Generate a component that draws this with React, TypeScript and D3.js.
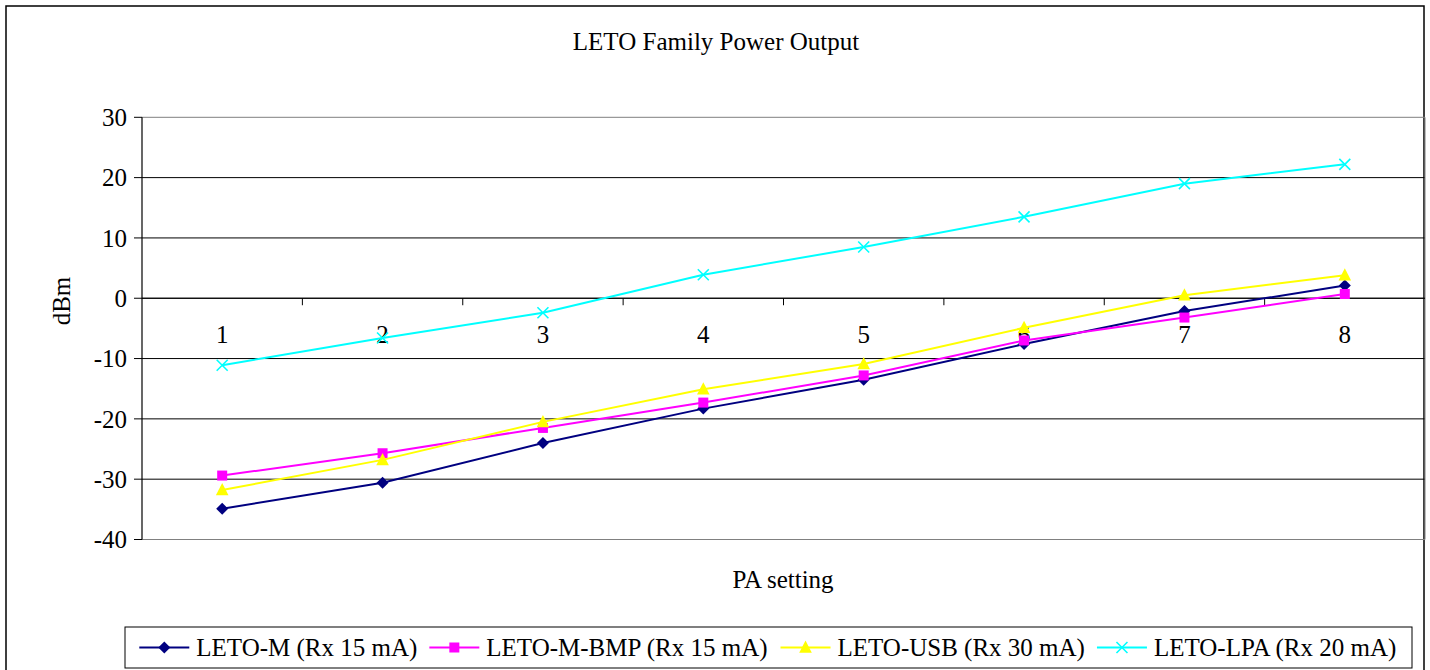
import React from "react";
import * as d3 from "d3";

const categories = ["1", "2", "3", "4", "5", "6", "7", "8"];
const yTicks = [30, 20, 10, 0, -10, -20, -30, -40];
const seriesNames = [
  "LETO-M (Rx 15 mA)",
  "LETO-M-BMP (Rx 15 mA)",
  "LETO-USB (Rx 30 mA)",
  "LETO-LPA (Rx 20 mA)",
];
const letoM = [-34.9, -30.6, -24.0, -18.3, -13.5, -7.6, -2.1, 2.1];
const letoBmp = [-29.4, -25.7, -21.5, -17.3, -12.8, -7.0, -3.2, 0.7];
const letoUsb = [-31.8, -26.8, -20.5, -15.1, -10.9, -4.9, 0.5, 3.8];
const letoLpa = [-11.1, -6.6, -2.4, 3.9, 8.5, 13.5, 19.0, 22.2];

const seriesValues = [letoM, letoBmp, letoUsb, letoLpa];
const colors = ["#000080", "#FF00FF", "#FFFF00", "#00FFFF"];
const markers = ["diamond", "square", "triangle", "x"];

const W = 1430;
const H = 670;
const FONT = "'Liberation Serif', 'Times New Roman', serif";
const FS = 25;

const plot = { left: 142, right: 1425, top: 117.3, bottom: 539.5 };

function Marker({ type, x, y, color }: { type: string; x: number; y: number; color: string }) {
  if (type === "diamond") {
    const r = 6;
    return <path d={`M${x},${y - r}L${x + r},${y}L${x},${y + r}L${x - r},${y}Z`} fill={color} />;
  }
  if (type === "square") {
    const r = 5;
    return <rect x={x - r} y={y - r} width={2 * r} height={2 * r} fill={color} />;
  }
  if (type === "triangle") {
    const r = 7;
    return <path d={`M${x},${y - r}L${x + r * 0.9},${y + r * 0.75}L${x - r * 0.9},${y + r * 0.75}Z`} fill={color} />;
  }
  const r = 5.5;
  return (
    <path
      d={`M${x - r},${y - r}L${x + r},${y + r}M${x - r},${y + r}L${x + r},${y - r}`}
      stroke={color}
      strokeWidth={1.6}
      fill="none"
    />
  );
}

function measure(text: string): number {
  const c = document.createElement("canvas");
  const ctx = c.getContext("2d");
  if (!ctx) return text.length * 11;
  ctx.font = `${FS}px ${FONT}`;
  return ctx.measureText(text).width;
}

export default function App() {
  const x = d3.scaleBand<string>().domain(categories).range([plot.left, plot.right]);
  const y = d3.scaleLinear().domain([-40, 30]).range([plot.bottom, plot.top]);
  const line = d3
    .line<number>()
    .x((_, i) => (x(categories[i]) as number) + x.bandwidth() / 2)
    .y((d) => y(d));

  // legend layout
  const legendBox = { x: 125, y: 627, w: 1287, h: 41 };
  const lineLen = 50;
  const gapText = 7;
  const gapItem = 12;
  const widths = seriesNames.map(measure);
  const total = widths.reduce((a, b) => a + b, 0) + seriesNames.length * (lineLen + gapText) + (seriesNames.length - 1) * gapItem;
  let cursor = legendBox.x + (legendBox.w - total) / 2;
  const legendItems = seriesNames.map((name, i) => {
    const start = cursor;
    cursor += lineLen + gapText + widths[i] + gapItem;
    return { name, start, i };
  });
  const legendY = legendBox.y + legendBox.h / 2;

  return (
    <svg width={W} height={H} style={{ position: "absolute", left: 0, top: 0, fontFamily: FONT }}>
      <rect x={0} y={0} width={W} height={H} fill="#fff" />
      <rect x={6} y={6} width={1418} height={H + 10} fill="#fff" stroke="#000" strokeWidth={1.5} />
      <text x={716} y={50} textAnchor="middle" fontSize={FS}>
        LETO Family Power Output
      </text>

      {/* gridlines */}
      {yTicks.map((t) => (
        <line
          key={t}
          x1={plot.left}
          x2={plot.right}
          y1={y(t)}
          y2={y(t)}
          stroke={t === 30 || t === -40 ? "#808080" : "#000"}
          strokeWidth={1}
        />
      ))}
      <line x1={plot.right} x2={plot.right} y1={plot.top} y2={plot.bottom} stroke="#808080" />
      {/* y axis */}
      <line x1={plot.left} x2={plot.left} y1={plot.top} y2={plot.bottom} stroke="#000" strokeWidth={1.2} />
      {yTicks.map((t) => (
        <g key={"yt" + t}>
          <line x1={plot.left - 8} x2={plot.left} y1={y(t)} y2={y(t)} stroke="#000" />
          <text x={plot.left - 15} y={y(t)} dy="0.35em" textAnchor="end" fontSize={FS}>
            {t}
          </text>
        </g>
      ))}
      {/* x axis at 0 */}
      <line x1={plot.left} x2={plot.right} y1={y(0)} y2={y(0)} stroke="#000" strokeWidth={1.2} />
      {categories.map((c, i) =>
        i === 0 ? null : (
          <line key={"xt" + c} x1={x(c) as number} x2={x(c) as number} y1={y(0)} y2={y(0) + 7} stroke="#000" />
        )
      )}
      {categories.map((c) => (
        <text key={"xl" + c} x={(x(c) as number) + x.bandwidth() / 2} y={343} textAnchor="middle" fontSize={FS}>
          {c}
        </text>
      ))}

      <text transform={`translate(70,301) rotate(-90)`} textAnchor="middle" fontSize={FS}>
        dBm
      </text>
      <text x={783} y={588} textAnchor="middle" fontSize={FS}>
        PA setting
      </text>

      {/* series */}
      {seriesValues.map((vals, si) => (
        <g key={"s" + si}>
          <path d={line(vals) as string} fill="none" stroke={colors[si]} strokeWidth={2} />
          {vals.map((v, i) => (
            <Marker
              key={i}
              type={markers[si]}
              x={(x(categories[i]) as number) + x.bandwidth() / 2}
              y={y(v)}
              color={colors[si]}
            />
          ))}
        </g>
      ))}

      {/* legend */}
      <rect x={legendBox.x} y={legendBox.y} width={legendBox.w} height={legendBox.h} fill="#fff" stroke="#000" strokeWidth={1} />
      {legendItems.map(({ name, start, i }) => (
        <g key={"lg" + i}>
          <line x1={start} x2={start + lineLen} y1={legendY} y2={legendY} stroke={colors[i]} strokeWidth={2} />
          <Marker type={markers[i]} x={start + lineLen / 2} y={legendY} color={colors[i]} />
          <text x={start + lineLen + gapText} y={legendY} dy="0.35em" fontSize={FS}>
            {name}
          </text>
        </g>
      ))}
    </svg>
  );
}
